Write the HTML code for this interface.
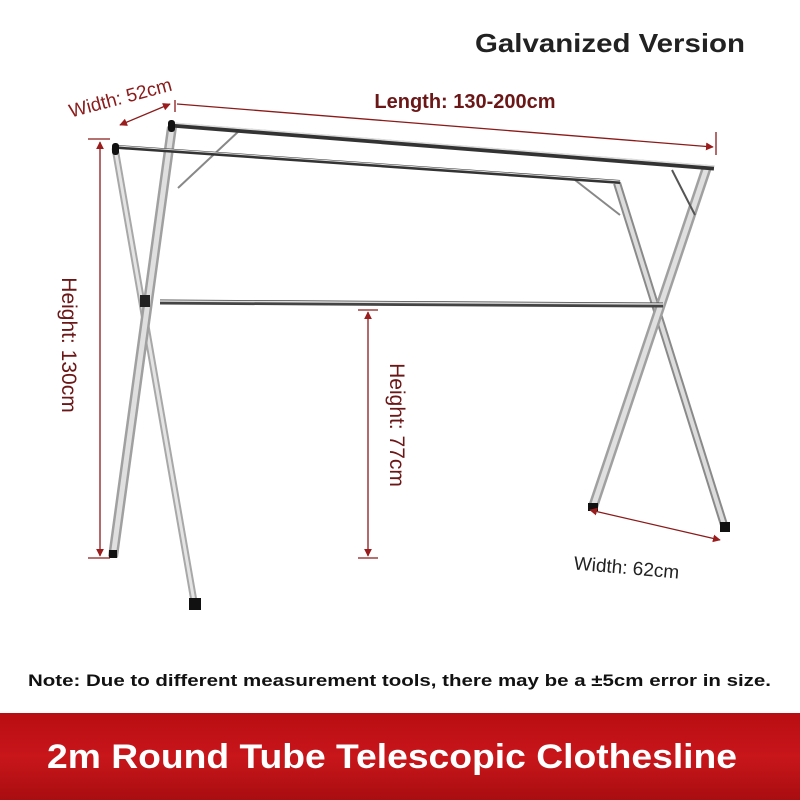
<!DOCTYPE html>
<html><head><meta charset="utf-8"><style>
html,body{margin:0;padding:0;background:#fff;}
svg{display:block;font-family:"Liberation Sans",sans-serif;}
</style></head><body>
<svg width="800" height="800" viewBox="0 0 800 800" xmlns="http://www.w3.org/2000/svg">
<defs>
<marker id="a" viewBox="0 0 10 10" refX="9" refY="5" markerWidth="6" markerHeight="6" orient="auto-start-reverse"><path d="M0,0 L10,5 L0,10 z" fill="#9a1c1c"/></marker>
<linearGradient id="bn" x1="0" y1="0" x2="0" y2="1"><stop offset="0" stop-color="#b80d12"/><stop offset="0.5" stop-color="#c8161b"/><stop offset="1" stop-color="#a90d10"/></linearGradient>
</defs>
<rect width="800" height="800" fill="#fff"/>
<text x="610" y="52" font-size="26" font-weight="bold" fill="#222" text-anchor="middle" textLength="270" lengthAdjust="spacingAndGlyphs">Galvanized Version</text>

<g stroke-linecap="butt">
<line x1="115" y1="148" x2="195" y2="607" stroke="#a8a8a8" stroke-width="7"/>
<line x1="115" y1="148" x2="195" y2="607" stroke="#e4e4e4" stroke-width="3"/>
<line x1="172" y1="127" x2="113" y2="557" stroke="#a0a0a0" stroke-width="10"/>
<line x1="172" y1="127" x2="113" y2="557" stroke="#e0e0e0" stroke-width="5"/>
<line x1="617" y1="183" x2="725" y2="528" stroke="#8a8a8a" stroke-width="8"/>
<line x1="617" y1="183" x2="725" y2="528" stroke="#dcdcdc" stroke-width="4"/>
<line x1="707" y1="167" x2="593" y2="507" stroke="#a0a0a0" stroke-width="10"/>
<line x1="707" y1="167" x2="593" y2="507" stroke="#e0e0e0" stroke-width="5"/>
</g>
<line x1="240" y1="130" x2="178" y2="188" stroke="#888" stroke-width="2"/>
<line x1="575" y1="180" x2="620" y2="215" stroke="#888" stroke-width="2"/>
<line x1="672" y1="170" x2="695" y2="215" stroke="#555" stroke-width="2"/>
<line x1="172" y1="125" x2="714" y2="168" stroke="#333" stroke-width="5"/>
<line x1="172" y1="123" x2="714" y2="166" stroke="#ddd" stroke-width="1.5"/>
<line x1="118" y1="147" x2="620" y2="182" stroke="#333" stroke-width="4"/>
<line x1="118" y1="146" x2="620" y2="181" stroke="#ddd" stroke-width="1"/>
<line x1="160" y1="302" x2="663" y2="305" stroke="#444" stroke-width="5"/>
<line x1="160" y1="301" x2="663" y2="304" stroke="#ddd" stroke-width="1.5"/>
<rect x="140" y="295" width="10" height="12" fill="#222"/>
<rect x="189" y="598" width="12" height="12" fill="#111"/>
<rect x="109" y="550" width="8" height="8" fill="#111"/>
<rect x="588" y="503" width="10" height="8" fill="#111"/>
<rect x="720" y="522" width="10" height="10" fill="#111"/>
<rect x="168" y="120" width="7" height="12" rx="3" fill="#111"/>
<rect x="112" y="143" width="7" height="12" rx="3" fill="#111"/>

<g stroke="#8b1a1a" stroke-width="1.3" fill="none">
<line x1="120" y1="125" x2="170" y2="104" marker-start="url(#a)" marker-end="url(#a)"/>
<line x1="177" y1="104" x2="713" y2="147" marker-end="url(#a)"/>
<line x1="175" y1="100" x2="175" y2="112"/>
<line x1="716" y1="132" x2="716" y2="155"/>
<line x1="100" y1="142" x2="100" y2="556" marker-start="url(#a)" marker-end="url(#a)"/>
<line x1="88" y1="139" x2="110" y2="139"/>
<line x1="88" y1="558" x2="110" y2="558"/>
<line x1="368" y1="312" x2="368" y2="556" marker-start="url(#a)" marker-end="url(#a)"/>
<line x1="358" y1="310" x2="378" y2="310"/>
<line x1="358" y1="558" x2="378" y2="558"/>
<line x1="590" y1="510" x2="720" y2="540" marker-start="url(#a)" marker-end="url(#a)"/>
</g>
<text x="122" y="104" font-size="19" fill="#8b1a1a" text-anchor="middle" transform="rotate(-15 122 104)">Width: 52cm</text>
<text x="465" y="108" font-size="20" font-weight="bold" fill="#6b1717" text-anchor="middle">Length: 130-200cm</text>
<text x="0" y="0" font-size="21" fill="#6b1717" text-anchor="middle" transform="translate(62 345) rotate(90)">Height: 130cm</text>
<text x="0" y="0" font-size="21" fill="#6b1717" text-anchor="middle" transform="translate(390 425) rotate(90)">Height: 77cm</text>
<text x="626" y="574" font-size="19" fill="#222" text-anchor="middle" transform="rotate(5 626 574)">Width: 62cm</text>

<text x="28" y="686" font-size="17" font-weight="bold" fill="#111" textLength="743" lengthAdjust="spacingAndGlyphs">Note: Due to different measurement tools, there may be a ±5cm error in size.</text>

<rect x="0" y="713" width="800" height="87" fill="url(#bn)"/>
<text x="392" y="768" font-size="34" font-weight="bold" fill="#fff" text-anchor="middle" textLength="690" lengthAdjust="spacingAndGlyphs">2m Round Tube Telescopic Clothesline</text>
</svg>
</body></html>
